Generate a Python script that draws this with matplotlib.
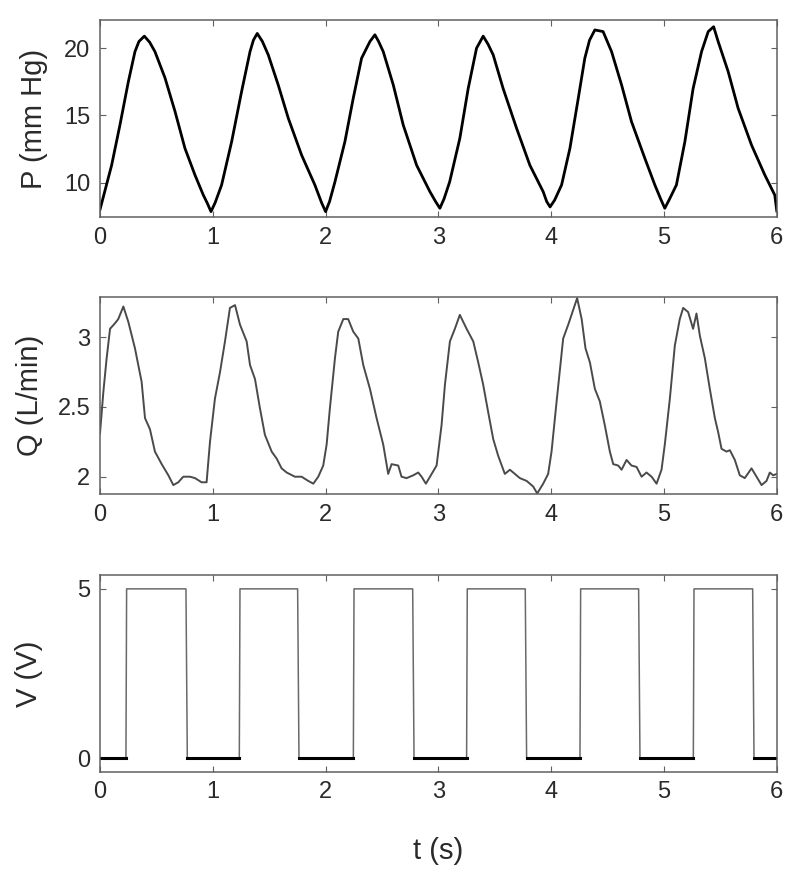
import numpy as np
import matplotlib
matplotlib.use("Agg")
import matplotlib.pyplot as plt


# =========================
# Data
# =========================
# pressure trace
t_p = [0.0, 0.103, 0.177, 0.251, 0.31, 0.345, 0.393, 0.44, 0.487, 0.576,
       0.665, 0.753, 0.842, 0.916, 0.95, 0.984, 1.02, 1.078, 1.167, 1.255,
       1.33, 1.36, 1.394, 1.44, 1.492, 1.58, 1.669, 1.787, 1.905, 1.965,
       2.0, 2.035, 2.083, 2.171, 2.245, 2.319, 2.393, 2.437, 2.47, 2.511,
       2.6, 2.688, 2.807, 2.925, 2.975, 3.013, 3.05, 3.1, 3.19, 3.264,
       3.338, 3.397, 3.44, 3.486, 3.574, 3.693, 3.811, 3.929, 3.96, 3.99,
       4.03, 4.092, 4.166, 4.24, 4.298, 4.34, 4.387, 4.46, 4.535, 4.624,
       4.712, 4.83, 4.919, 4.97, 5.007, 5.05, 5.11, 5.185, 5.258, 5.333,
       5.392, 5.44, 5.48, 5.569, 5.657, 5.776, 5.894, 5.982, 6.0]
p_mmhg = [8.0, 11.3, 14.3, 17.5, 19.75, 20.5, 20.9, 20.45, 19.75, 17.8,
          15.3, 12.56, 10.57, 9.08, 8.5, 7.85, 8.5, 9.83, 13.05, 16.77,
          19.75, 20.6, 21.1, 20.5, 19.5, 17.27, 14.8, 12.06, 9.83, 8.5,
          7.85, 8.6, 10.07, 13.05, 16.28, 19.26, 20.5, 21.0, 20.5, 19.75,
          17.27, 14.3, 11.3, 9.33, 8.6, 8.1, 8.8, 10.07, 13.3, 17.0,
          20.0, 20.9, 20.3, 19.5, 17.0, 14.05, 11.3, 9.33, 8.6, 8.2,
          8.7, 9.83, 12.56, 16.28, 19.26, 20.6, 21.36, 21.24, 19.75, 17.27,
          14.54, 11.82, 9.83, 8.8, 8.1, 8.8, 9.83, 13.05, 17.0, 19.75,
          21.24, 21.6, 20.5, 18.26, 15.54, 12.8, 10.57, 9.08, 7.9]

# flow trace
t_q = [0.0, 0.03, 0.059, 0.089, 0.133, 0.162, 0.207, 0.251, 0.31, 0.369,
       0.399, 0.443, 0.487, 0.547, 0.606, 0.65, 0.694, 0.738, 0.798, 0.842,
       0.901, 0.945, 0.975, 1.019, 1.064, 1.108, 1.152, 1.197, 1.241, 1.3,
       1.33, 1.374, 1.418, 1.462, 1.522, 1.566, 1.61, 1.655, 1.728, 1.787,
       1.846, 1.891, 1.935, 1.979, 2.009, 2.038, 2.083, 2.112, 2.157, 2.2,
       2.245, 2.29, 2.334, 2.393, 2.452, 2.511, 2.555, 2.585, 2.644, 2.673,
       2.718, 2.777, 2.821, 2.851, 2.889, 2.94, 2.984, 3.028, 3.058, 3.102,
       3.146, 3.19, 3.25, 3.309, 3.353, 3.397, 3.442, 3.486, 3.53, 3.589,
       3.634, 3.678, 3.722, 3.782, 3.84, 3.876, 3.929, 3.973, 4.003, 4.048,
       4.106, 4.151, 4.18, 4.23, 4.27, 4.304, 4.343, 4.387, 4.431, 4.475,
       4.52, 4.55, 4.594, 4.624, 4.668, 4.712, 4.757, 4.801, 4.845, 4.89,
       4.934, 4.978, 5.007, 5.052, 5.096, 5.14, 5.17, 5.214, 5.258, 5.288,
       5.318, 5.362, 5.406, 5.451, 5.48, 5.51, 5.554, 5.584, 5.628, 5.672,
       5.716, 5.776, 5.82, 5.865, 5.909, 5.938, 5.968, 6.0]
q_lmin = [2.31, 2.61, 2.85, 3.06, 3.10, 3.13, 3.22, 3.11, 2.92, 2.68,
          2.42, 2.34, 2.18, 2.09, 2.01, 1.94, 1.96, 2.0, 2.0, 1.99,
          1.96, 1.96, 2.25, 2.56, 2.75, 2.97, 3.21, 3.23, 3.09, 2.97,
          2.80, 2.70, 2.49, 2.30, 2.18, 2.13, 2.06, 2.03, 2.0, 2.0,
          1.97, 1.95, 2.0, 2.08, 2.23, 2.49, 2.85, 3.04, 3.13, 3.13,
          3.04, 2.99, 2.80, 2.63, 2.42, 2.23, 2.02, 2.09, 2.08, 2.0,
          1.99, 2.01, 2.03, 2.0, 1.95, 2.02, 2.08, 2.37, 2.66, 2.97,
          3.06, 3.16, 3.06, 2.97, 2.82, 2.66, 2.46, 2.27, 2.15, 2.02,
          2.05, 2.02, 1.99, 1.97, 1.93, 1.88, 1.95, 2.02, 2.18, 2.54,
          2.99, 3.09, 3.16, 3.28, 3.13, 2.92, 2.82, 2.63, 2.54, 2.37,
          2.18, 2.09, 2.08, 2.05, 2.12, 2.08, 2.07, 2.0, 2.03, 2.0,
          1.95, 2.05, 2.23, 2.56, 2.94, 3.13, 3.21, 3.18, 3.06, 3.17,
          3.01, 2.85, 2.63, 2.42, 2.32, 2.20, 2.18, 2.19, 2.12, 2.01,
          1.99, 2.06, 2.0, 1.94, 1.97, 2.03, 2.01, 2.02]

# trigger voltage: switching times
v_rise = [0.23, 1.235, 2.246, 3.25, 4.255, 5.26]
v_fall = [0.762, 1.752, 2.772, 3.77, 4.775, 5.786]
V_HIGH = 5.0
V_LOW = 0.0

# =========================
# Style
# =========================
plt.rcParams["font.family"] = ["Liberation Sans", "DejaVu Sans"]
TEXT_COLOR = "#2a2a2a"
FRAME_COLOR = "#606060"
TICK_SIZE = 17
LABEL_SIZE = 21


def style_axes(ax, ylim, yticks, ylabel, label_x):
    ax.set_xlim(0, 6)
    ax.set_ylim(*ylim)
    ax.set_xticks(range(7))
    ax.set_yticks(yticks)
    ax.set_yticklabels([f"{v:g}" for v in yticks])
    for s in ax.spines.values():
        s.set_color(FRAME_COLOR)
        s.set_linewidth(1.1)
    ax.tick_params(direction="in", length=4, width=0.8, color=FRAME_COLOR,
                   top=True, right=True, labelsize=TICK_SIZE,
                   labelcolor=TEXT_COLOR, pad=7)
    ax.set_ylabel(ylabel, fontsize=LABEL_SIZE, color=TEXT_COLOR, va="center")
    ax.yaxis.set_label_coords(label_x, 0.5)


def voltage_trace():
    t = [0.0]
    v = [V_LOW]
    for r, f in zip(v_rise, v_fall):
        t += [r, r + 0.006, f, f + 0.012]
        v += [V_LOW, V_HIGH, V_HIGH, V_LOW]
    t.append(6.0)
    v.append(V_LOW)
    return np.array(t), np.array(v)


def main():
    fig = plt.figure(figsize=(8, 8.85), dpi=100)
    left, width = 0.125, 0.846
    ax1 = fig.add_axes([left, 0.7548, width, 0.2226])
    ax2 = fig.add_axes([left, 0.4418, width, 0.2229])
    ax3 = fig.add_axes([left, 0.128, width, 0.2223])

    # pressure
    ax1.plot(t_p, p_mmhg, color="black", lw=2.0)
    style_axes(ax1, (7.45, 22.1), [10, 15, 20], "P (mm Hg)", -0.098)

    # flow
    ax2.plot(t_q, q_lmin, color="#4a4a4a", lw=1.4)
    style_axes(ax2, (1.876, 3.29), [2, 2.5, 3], "Q (L/min)", -0.103)

    # voltage
    tv, vv = voltage_trace()
    ax3.plot(tv, vv, color="#6a6a6a", lw=1.1)
    lows_start = [0.0] + [f + 0.012 for f in v_fall]
    lows_end = v_rise + [6.0]
    for a, b in zip(lows_start, lows_end):
        ax3.plot([a, b], [V_LOW, V_LOW], color="black", lw=2.2)
    style_axes(ax3, (-0.4, 5.41), [0, 5], "V (V)", -0.105)

    ax3.set_xlabel("t (s)", fontsize=LABEL_SIZE, color=TEXT_COLOR, va="center")
    ax3.xaxis.set_label_coords(0.5, -0.405)

    fig.savefig("out.png", dpi=100)
    plt.close(fig)


if __name__ == "__main__":
    main()
